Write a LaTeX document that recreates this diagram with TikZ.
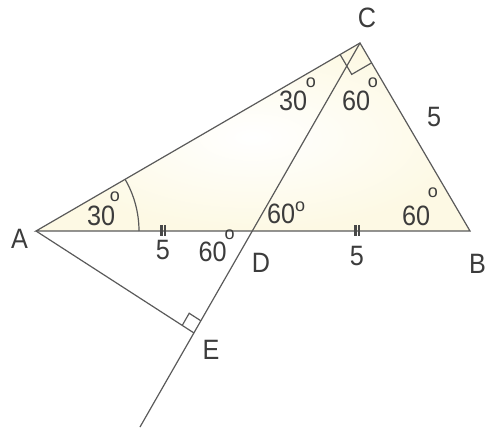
\documentclass[tikz,border=0pt]{standalone}
\usepackage{fontspec}
\setmainfont[FakeStretch=0.9]{Liberation Sans}
\newfontfamily\degfont{Liberation Sans}
\usetikzlibrary{calc}
\definecolor{ln}{RGB}{90,90,90}
\definecolor{tx}{RGB}{60,60,60}
\definecolor{fillY}{RGB}{253,249,228}
\newcommand\degsym[2]{\hspace{#1}\raisebox{#2}{\degfont\fontsize{18}{18}\selectfont o}}
\begin{document}
\begin{tikzpicture}[x=1pt,y=-1pt,
  lbl/.style={text=tx,font=\fontsize{28}{28}\selectfont,inner sep=0pt},
  ang/.style={lbl,anchor=base west},
  seg/.style={draw=ln,line width=1.2pt},
  tick/.style={draw=ln!80!black,line width=2.4pt}]
\useasboundingbox (0,0) rectangle (486,428);
\coordinate (A) at (36,231);
\coordinate (B) at (470,231);
\coordinate (C) at (360,43);
\coordinate (D) at (253,231);
\coordinate (E) at (194,333);
\coordinate (F) at (140,427);
\shade[inner color=white,outer color=fillY] (A) -- (B) -- (C) -- cycle;
\draw[seg] (A) -- (B) -- (C) -- cycle;
\draw[seg] (C) -- (F);
\draw[seg] (A) -- (E);
% angle arc at A
\draw[seg] ($(A)+(103,0)$) arc[start angle=0,end angle=-30,radius=103];
% right angle at C
\coordinate (c1) at ($(C)!23pt!(A)$);
\coordinate (c2) at ($(C)!23pt!(B)$);
\draw[seg] (c1) -- ($(c1)+(c2)-(C)$) -- (c2);
% right angle at E
\coordinate (e1) at ($(E)!14pt!(C)$);
\coordinate (e2) at ($(E)!14pt!(A)$);
\draw[seg] (e1) -- ($(e1)+(e2)-(E)$) -- (e2);
% equal-length ticks
\foreach \x in {161.5,165.1,355.5,359.1}
  \draw[tick] (\x,225) -- (\x,236);
% vertex labels
\node[lbl] (lA) at (19.5,239) {A};
\node[lbl] (lB) at (477.5,263.5) {B};
\node[lbl] (lC) at (367,18) {C};
\node[lbl] (lD) at (261,263) {D};
\node[lbl] (lE) at (211,350) {E};
% lengths
\node[lbl] (l5a) at (163,250) {5};
\node[lbl] (l5b) at (357,256) {5};
\node[lbl] (l5c) at (434,117) {5};
% angles
\node[ang] (aA) at (87,225) {30\degsym{-5.3pt}{23.3pt}};
\node[ang] (aC1) at (279,110) {30\degsym{-1.3pt}{22.3pt}};
\node[ang] (aC2) at (342,110) {60\degsym{-2.3pt}{22.3pt}};
\node[ang] (aD1) at (267,223) {60\degsym{0pt}{11.5pt}};
\node[ang] (aD2) at (198.5,261) {60\degsym{-2pt}{21.3pt}};
\node[ang] (aB) at (402,225) {60\degsym{-2.3pt}{27.8pt}};
\end{tikzpicture}
\end{document}
